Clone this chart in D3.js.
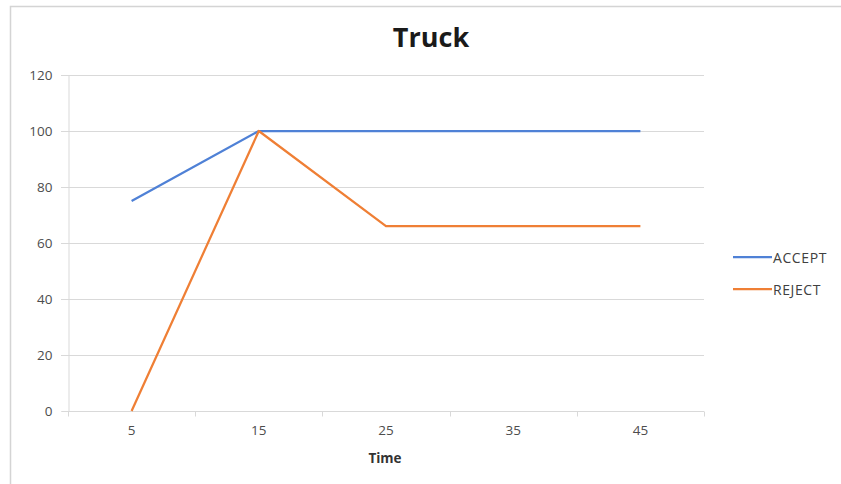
<!DOCTYPE html>
<html>
<head>
<meta charset="utf-8">
<script src="https://cdn.jsdelivr.net/npm/d3@7"></script>
<style>
  html, body { margin: 0; padding: 0; background: #fff; }
  svg { display: block; }
  text { font-family: "Open Sans", "Noto Sans", sans-serif; }
</style>
</head>
<body>
<svg id="chart" width="841" height="484"></svg>
<script>
// Time categories on the x axis
const categories = ["5", "15", "25", "35", "45"];
// Series values
const acceptValues = [75, 100, 100, 100, 100];
const rejectValues = [0, 100, 66, 66, 66];
// Y axis ticks
const yTicks = [0, 20, 40, 60, 80, 100, 120];

const series = [
  { name: "ACCEPT", values: acceptValues, color: "#4f81d6" },
  { name: "REJECT", values: rejectValues, color: "#ef7f35" }
];

const svg = d3.select("#chart");
const W = 841, H = 484;
const plot = { left: 68, right: 704, top: 75, bottom: 411 };

// Outer chart frame
svg.append("rect")
  .attr("x", 10.5).attr("y", 6.5)
  .attr("width", W + 20).attr("height", H + 20)
  .attr("fill", "#fff").attr("stroke", "#d4d4d4").attr("stroke-width", 1.5);

const x = d3.scaleBand().domain(categories).range([plot.left, plot.right]);
const y = d3.scaleLinear().domain([0, 120]).range([plot.bottom, plot.top]);

// Horizontal gridlines
svg.append("g")
  .selectAll("line")
  .data(yTicks.filter(d => d > 0))
  .join("line")
  .attr("x1", plot.left - 7).attr("x2", plot.right)
  .attr("y1", d => Math.round(y(d)) + 0.5).attr("y2", d => Math.round(y(d)) + 0.5)
  .attr("stroke", "#d9d9d9").attr("stroke-width", 1);

// Y axis
const yAxis = svg.append("g")
  .attr("transform", `translate(${plot.left + 0.5},0)`)
  .call(d3.axisLeft(y).tickValues(yTicks).tickSize(7).tickPadding(9));
yAxis.select(".domain").attr("stroke", "#d9d9d9");
yAxis.selectAll(".tick line").attr("stroke", "#d9d9d9");
yAxis.selectAll(".tick text")
  .attr("fill", "#4d4d4d").style("font-size", "13.5px")
  .style("font-family", "'Open Sans', sans-serif");

// X axis with ticks on band boundaries
const xAxis = svg.append("g")
  .attr("transform", `translate(0,${plot.bottom + 0.5})`)
  .call(d3.axisBottom(x).tickSize(0).tickPadding(14));
xAxis.select(".domain").attr("stroke", "#d9d9d9").attr("d", `M${plot.left},0H${plot.right}`);
xAxis.selectAll(".tick text")
  .attr("fill", "#4d4d4d").style("font-size", "13.5px")
  .style("font-family", "'Open Sans', sans-serif");
const bounds = categories.map(c => x(c)).concat([x(categories[categories.length - 1]) + x.bandwidth()]);
xAxis.selectAll(".bound")
  .data(bounds)
  .join("line")
  .attr("class", "bound")
  .attr("x1", d => Math.round(d) + 0.5).attr("x2", d => Math.round(d) + 0.5)
  .attr("y1", 0).attr("y2", 5)
  .attr("stroke", "#d9d9d9");

// Lines
const line = d3.line()
  .x((d, i) => x(categories[i]) + x.bandwidth() / 2)
  .y(d => y(d));

svg.append("g")
  .selectAll("path")
  .data(series)
  .join("path")
  .attr("d", d => line(d.values))
  .attr("fill", "none")
  .attr("stroke", d => d.color)
  .attr("stroke-width", 2.25)
  .attr("stroke-linejoin", "round");

// Title
svg.append("text")
  .attr("x", 431).attr("y", 47)
  .attr("text-anchor", "middle")
  .attr("font-size", "27px").attr("font-weight", "bold")
  .attr("fill", "#1a1a1a")
  .text("Truck");

// X axis title
svg.append("text")
  .attr("x", 385).attr("y", 463)
  .attr("text-anchor", "middle")
  .attr("font-size", "13.5px").attr("font-weight", "bold")
  .attr("fill", "#333")
  .text("Time");

// Legend
const legend = svg.append("g")
  .selectAll("g")
  .data(series)
  .join("g")
  .attr("transform", (d, i) => `translate(733,${257 + i * 32})`);
legend.append("line")
  .attr("x1", 0).attr("x2", 39).attr("y1", 0).attr("y2", 0)
  .attr("stroke", d => d.color).attr("stroke-width", 2.25);
legend.append("text")
  .attr("x", 40).attr("y", 5.5)
  .attr("font-size", "14px").attr("letter-spacing", "0.6px")
  .attr("fill", "#404040")
  .text(d => d.name);
</script>
</body>
</html>
